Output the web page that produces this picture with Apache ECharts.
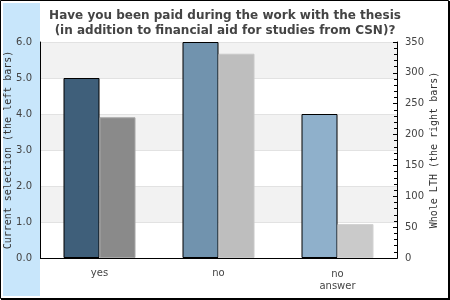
<!DOCTYPE html>
<html><head><meta charset="utf-8">
<script src="https://cdn.jsdelivr.net/npm/echarts@6/dist/echarts.min.js"></script>
<style>html,body{margin:0;padding:0;background:#fff}#c{width:450px;height:300px}</style>
</head><body><div id="c"></div>
<script>
var categories = ['yes', 'no', 'no\nanswer'];
var currentSelection = [5.0, 6.0, 4.0];
var wholeLTH = [228, 331, 55];
var leftTicks = [0, 6, 1];
var rightTicks = [0, 350, 50];
var shadedBands = [[1, 2], [3, 4], [5, 6]];
var leftColors = ['#3f5f7a', '#7193ae', '#8fb0cb'];
var rightColors = ['#8a8a8a', '#bebebe', '#cacaca'];
var rightBorders = ['#a6a6a6', '#c8c8c8', '#d2d2d2'];
var panelBlue = '#c8e6fb';

var chart = echarts.init(document.getElementById('c'), null, {renderer: 'canvas'});
var font = 'DejaVu Sans';
var mono = 'DejaVu Sans Mono';
chart.setOption({
  animation: false,
  backgroundColor: '#fff',
  graphic: {
    elements: [
      {type: 'rect', z: 1, shape: {x: 0.5, y: 0.5, width: 448, height: 298}, style: {fill: null, stroke: '#000', lineWidth: 1}, silent: true},
      {type: 'rect', z: 1, shape: {x: 448, y: 1, width: 2, height: 299}, style: {fill: '#000'}, silent: true},
      {type: 'rect', z: 1, shape: {x: 1, y: 298, width: 449, height: 2}, style: {fill: '#000'}, silent: true},
      {type: 'rect', z: 2, shape: {x: 3, y: 3, width: 37, height: 293}, style: {fill: panelBlue}, silent: true}
    ]
  },
  title: {
    text: 'Have you been paid during the work with the thesis\n(in addition to financial aid for studies from CSN)?',
    left: 'center', top: 3, z: 8,
    textStyle: {fontFamily: font, fontSize: 12, fontWeight: 'bold', color: '#444', lineHeight: 15}
  },
  grid: {left: 40, right: 53, top: 42, bottom: 42, outerBoundsMode: 'none', containLabel: false, show: false},
  xAxis: [
    {
      type: 'category', data: categories, position: 'bottom', z: 6,
      axisLine: {show: true, lineStyle: {color: '#000', width: 1}}, axisTick: {show: false},
      axisLabel: {
        fontFamily: font, fontSize: 10, color: '#444', margin: 9, lineHeight: 12,
        formatter: function (v) { return v.indexOf('\n') >= 0 ? '{m|' + v + '}' : v; },
        rich: {m: {fontFamily: font, fontSize: 10, color: '#444', lineHeight: 12, padding: [3, 0, 0, 0]}}
      }
    },
    {
      type: 'category', data: categories, position: 'top', z: 6,
      axisLine: {show: true, lineStyle: {color: '#000', width: 1}}, axisTick: {show: false},
      axisLabel: {show: false}
    }
  ],
  yAxis: [
    {
      type: 'value', min: leftTicks[0], max: leftTicks[1], interval: leftTicks[2], position: 'left', z: 60,
      axisLine: {show: true, lineStyle: {color: '#000', width: 1}}, axisTick: {show: false},
      axisLabel: {
        fontFamily: font, fontSize: 10, color: '#444', margin: 0, lineHeight: 12,
        width: 29, overflow: 'none', align: 'right',
        padding: [12, 8, 12, 0], backgroundColor: panelBlue,
        formatter: function (v) { return v.toFixed(1); }
      },
      splitLine: {show: false},
      splitArea: {show: false}
    },
    {
      type: 'value', min: rightTicks[0], max: rightTicks[1], interval: rightTicks[2], position: 'right', z: 6,
      name: 'Whole LTH (the right bars)', nameLocation: 'middle', nameGap: 32, nameMoveOverlap: false,
      nameTextStyle: {fontFamily: mono, fontSize: 10, color: '#333'},
      axisLine: {show: true, lineStyle: {color: '#000', width: 1}},
      axisTick: {show: true, inside: true, length: 4, lineStyle: {color: '#000'}},
      minorTick: {show: true, splitNumber: 5, length: 3, lineStyle: {color: '#000'}},
      axisLabel: {fontFamily: font, fontSize: 10, color: '#444', margin: 8},
      splitLine: {show: false}
    },
    {
      type: 'value', min: leftTicks[0], max: leftTicks[1], interval: leftTicks[2], position: 'left', z: 70,
      name: 'Current selection (the left bars)', nameLocation: 'middle', nameGap: 27, nameMoveOverlap: false,
      nameTextStyle: {fontFamily: mono, fontSize: 10, color: '#333'},
      axisLine: {show: false}, axisTick: {show: false}, axisLabel: {show: false},
      splitLine: {show: false}, splitArea: {show: false}
    },
    {
      type: 'value', min: leftTicks[0], max: leftTicks[1], interval: leftTicks[2], position: 'left', z: 4,
      axisLine: {show: false}, axisTick: {show: false}, axisLabel: {show: false},
      splitLine: {show: true, lineStyle: {color: '#e2e2e2', width: 1}},
      splitArea: {show: false}
    }
  ],
  series: [
    {
      type: 'bar', yAxisIndex: 0, barWidth: 36, barGap: '0%', z: 5,
      data: currentSelection.map(function (v, i) {
        return {value: v, itemStyle: {color: leftColors[i], borderColor: '#000', borderWidth: 1}};
      }),
      markArea: {
        silent: true, z: 2,
        itemStyle: {color: '#f2f2f2', borderWidth: 0},
        data: shadedBands.map(function (b) { return [{yAxis: b[0]}, {yAxis: b[1]}]; })
      }
    },
    {
      type: 'bar', yAxisIndex: 1, barWidth: 36, barGap: '0%', z: 5,
      data: wholeLTH.map(function (v, i) {
        return {value: v, itemStyle: {color: rightColors[i], borderColor: rightBorders[i], borderWidth: 1}};
      })
    }
  ]
});
</script></body></html>
